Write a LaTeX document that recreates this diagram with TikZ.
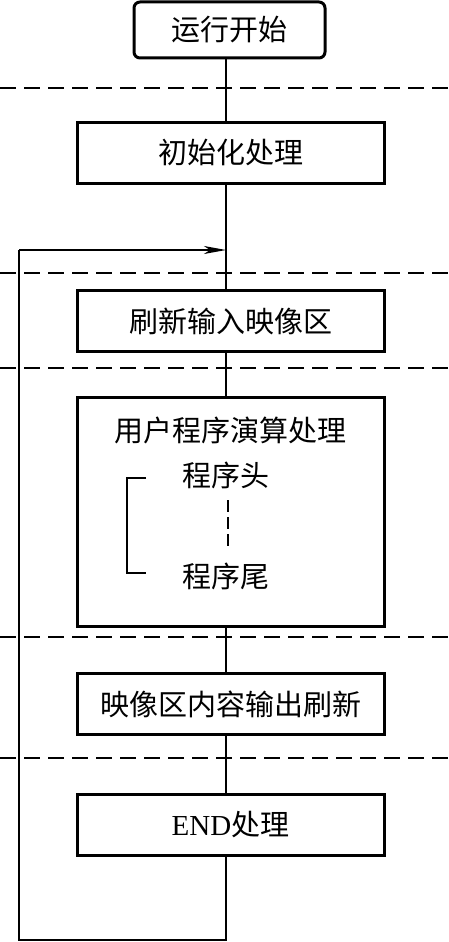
\documentclass[tikz,border=0pt]{standalone}
\usepackage{fontspec}
\setmainfont{Liberation Serif}
\newfontfamily\cjk{Noto Sans CJK SC}
\usetikzlibrary{arrows.meta}
\tikzset{
  stepbox/.style={draw, line width=3pt, minimum width=307pt, minimum height=61pt, inner sep=0pt, font=\cjk\fontsize{29}{34}\selectfont},
  plain/.style={inner sep=0pt, font=\cjk\fontsize{29}{34}\selectfont},
  flow/.style={line width=2pt},
  sepline/.style={line width=1.5pt, dash pattern=on 16pt off 8pt},
}

\begin{document}
\begin{tikzpicture}[x=1pt,y=-1pt]
        \useasboundingbox (0,0) rectangle (449,942);
        \coordinate (axis) at (226,0);
        % separators
        \foreach \y in {88,273,368,637,758}
          \draw[sepline] (0,\y) -- (449,\y);
        % boxes
        \node[stepbox, rounded corners=6pt, minimum width=191pt, minimum height=56pt] (start) at (229.5,30) {运行开始};
        \node[stepbox] (init) at (230.5,152.5) {初始化处理};
        \node[stepbox] (inref) at (230.5,321) {刷新输入映像区};
        \node[stepbox, minimum height=229pt] (user) at (230.5,512) {};
        \node[stepbox] (outref) at (230.5,704) {映像区内容输出刷新};
        \node[stepbox] (endp) at (230.5,825) {{\rmfamily END}处理};
        % inside the user box
        \node[plain] (utitle) at (230,430) {用户程序演算处理};
        \node[plain] (phead) at (226,475) {程序头};
        \node[plain] (ptail) at (226,576) {程序尾};
        \draw[line width=1.5pt] (146,478) -- (127,478) -- (127,573) -- (146,573);
        \draw[line width=1.5pt, dash pattern=on 12pt off 5pt] (228,500) -- (228,548);
        % main flow
        \draw[flow] (start.south -| axis) -- (init.north -| axis);
        \draw[flow] (init.south -| axis) -- (inref.north -| axis);
        \draw[flow] (inref.south -| axis) -- (user.north -| axis);
        \draw[flow] (user.south -| axis) -- (outref.north -| axis);
        \draw[flow] (outref.south -| axis) -- (endp.north -| axis);
        % loop back
        \coordinate (loopbot) at (226,940);
        \coordinate (loopleft) at (19,250);
        \coordinate (loopin) at (226,250);
        \draw[flow] (endp.south -| axis) -- (loopbot) -| (loopleft);
        \draw[line width=1.5pt, -{Stealth[length=22pt, width=8pt, inset=6pt]}] (loopleft) -- (loopin);
    \end{tikzpicture}
\end{document}
